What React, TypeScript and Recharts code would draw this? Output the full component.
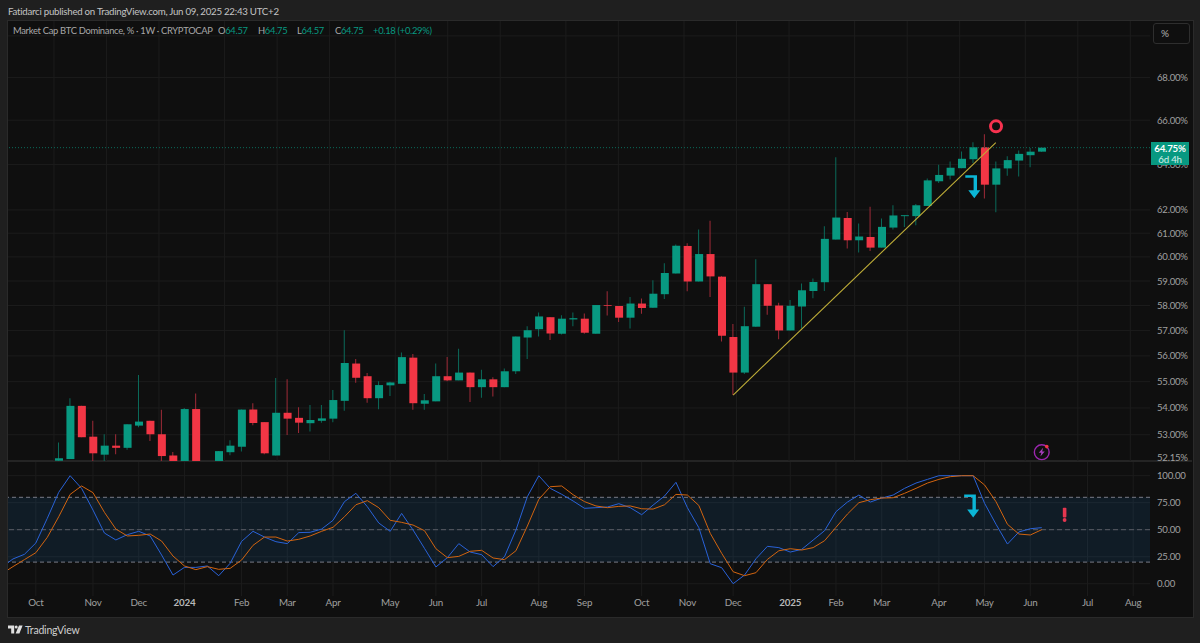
import {
  Bar,
  CartesianGrid,
  Cell,
  ComposedChart,
  Line,
  ReferenceArea,
  ReferenceDot,
  ReferenceLine,
  XAxis,
  YAxis,
} from 'recharts';

// weekly candles, first one sits at index 0
const opens = [
  52.05, 52.11, 54.08, 52.93, 52.27, 52.6, 52.52, 53.34, 53.52, 53.02,
  52.24, 51.95, 53.96, 51.9, 51.7, 52.36, 52.56, 53.94, 53.47, 52.24,
  53.82, 53.63, 53.43, 53.52, 53.6, 54.27, 55.7, 55.21, 54.37, 54.86,
  54.92, 55.93, 54.16, 54.25, 55.21, 55.05, 55.35, 54.79, 55.09, 54.79,
  55.4, 56.72, 57.05, 57.53, 56.87, 57.44, 57.47, 56.87, 58.02, 57.98,
  57.51, 58.08, 57.91, 58.46, 59.31, 60.46, 58.98, 60.12, 59.18, 56.74,
  55.35, 57.15, 58.87, 58.0, 57.0, 57.96, 58.59, 58.95, 60.73, 61.65,
  60.7, 60.84, 60.39, 61.24, 61.73, 61.73, 62.17, 63.25, 63.5, 63.83,
  64.23, 64.77, 63.1, 63.82, 64.17, 64.41, 64.57,
];
const closes = [
  52.14, 54.08, 52.91, 52.32, 52.6, 52.52, 53.39, 53.49, 53.02, 52.22,
  51.9, 53.96, 51.8, 51.6, 52.4, 52.6, 53.94, 53.44, 52.32, 53.82,
  53.6, 53.45, 53.55, 53.61, 54.3, 55.72, 55.15, 54.37, 54.87, 54.97,
  55.95, 54.18, 54.29, 55.21, 55.05, 55.35, 54.79, 55.09, 54.79, 55.4,
  56.76, 57.01, 57.56, 56.88, 57.47, 57.49, 56.91, 58.02, 57.99, 57.51,
  58.08, 57.9, 58.48, 59.33, 60.47, 58.98, 60.12, 59.19, 56.79, 55.35,
  57.17, 58.87, 57.99, 57.0, 57.99, 58.62, 58.96, 60.76, 61.67, 60.7,
  60.86, 60.39, 61.27, 61.76, 61.77, 62.2, 63.29, 63.53, 63.85, 64.25,
  64.77, 63.1, 63.82, 64.19, 64.47, 64.57, 64.75,
];
const highs = [
  52.72, 54.37, 54.08, 53.52, 53.02, 53.02, 53.39, 55.26, 53.52, 53.93,
  52.37, 54.0, 54.55, 51.95, 52.4, 52.8, 53.94, 54.18, 53.47, 55.14,
  55.09, 54.03, 54.11, 54.11, 54.68, 57.01, 55.88, 55.33, 55.02, 55.0,
  56.13, 56.07, 54.53, 55.7, 55.95, 56.28, 55.35, 55.46, 55.17, 55.51,
  56.76, 57.17, 57.72, 57.53, 57.61, 57.72, 57.68, 58.02, 58.58, 57.98,
  58.35, 58.28, 59.03, 59.74, 60.52, 60.57, 61.16, 61.53, 59.2, 57.26,
  57.95, 59.9, 58.87, 58.11, 58.22, 58.9, 59.1, 61.3, 64.32, 61.91,
  61.41, 62.14, 61.63, 62.2, 61.76, 62.26, 63.37, 63.98, 64.13, 64.58,
  64.99, 65.36, 64.13, 64.36, 64.62, 64.74, 64.75,
];
const lows = [
  52.0, 52.11, 52.91, 52.04, 52.0, 52.29, 52.45, 53.28, 52.77, 52.02,
  51.8, 51.9, 51.7, 51.5, 51.6, 52.25, 52.39, 53.35, 52.29, 52.24,
  52.99, 53.07, 53.12, 53.45, 53.47, 53.9, 54.96, 54.2, 53.95, 54.45,
  54.92, 53.93, 53.93, 54.25, 55.02, 55.05, 54.23, 54.39, 54.43, 54.79,
  55.3, 55.88, 56.76, 56.62, 56.84, 57.17, 56.87, 56.87, 57.6, 57.34,
  57.08, 57.67, 57.91, 58.26, 59.31, 58.58, 58.98, 58.35, 56.56, 54.49,
  55.3, 57.15, 57.63, 56.65, 57.0, 57.08, 58.3, 58.59, 60.73, 60.35,
  60.19, 60.25, 60.39, 61.16, 61.27, 61.34, 62.17, 63.17, 63.33, 63.83,
  64.06, 62.5, 61.9, 63.49, 63.46, 63.87, 64.57,
];

// stoch rsi, starts 5 weeks before the first candle (index -5)
const rsiK = [
  15.2, 22.9, 27.2, 37.7, 60.5, 84.6, 100, 88.3, 68.2, 46.9,
  40.5, 45.4, 48.5, 44.2, 26.6, 8.0, 15.1, 15.1, 16.4, 7.4,
  18.9, 39.2, 48.5, 43.2, 38.9, 37.1, 47.3, 47.6, 50.6, 58.7,
  76.0, 83.7, 71.3, 56.2, 48.5, 65.1, 49.7, 32.7, 15.5, 24.1,
  37.1, 29.3, 26.9, 15.8, 25.0, 49.7, 80.6, 100, 88.3, 82.8,
  76.6, 69.8, 70.4, 71.0, 74.1, 70.4, 63.9, 72.8, 81.2, 93.9,
  70.4, 51.9, 18.5, 14.8, 0, 8.0, 23.1, 34.6, 33.4, 29.3,
  31.8, 40.4, 49.1, 66.7, 75.6, 82.1, 75.6, 79.3, 82.1, 88.3,
  93.2, 96.6, 100, 100, 100, 100, 74.4, 55.0, 36.7, 47.9,
  50.9, 51.9,
];
const rsiD = [
  9.0, 15.8, 22.3, 28.7, 42.9, 62.0, 82.7, 90.5, 84.3, 66.1,
  50.6, 44.2, 44.8, 46.0, 39.5, 25.6, 16.4, 13.0, 15.8, 13.3,
  14.2, 21.9, 35.5, 43.2, 43.2, 39.5, 41.1, 44.2, 48.5, 52.2,
  62.0, 73.1, 76.9, 70.4, 58.7, 56.8, 54.3, 49.1, 32.4, 24.1,
  25.3, 30.0, 30.9, 23.8, 22.3, 30.5, 53.4, 78.1, 89.8, 90.5,
  82.4, 76.0, 72.0, 70.4, 71.6, 72.0, 69.4, 69.1, 73.1, 82.7,
  82.1, 72.5, 46.6, 28.1, 11.1, 7.4, 10.2, 22.5, 30.5, 32.4,
  31.2, 33.4, 39.8, 52.2, 64.5, 75.0, 77.8, 79.3, 79.6, 83.7,
  88.3, 93.2, 96.6, 99.1, 100, 100, 91.4, 75.9, 55.0, 46.0,
  45.1, 50.0,
];

const monthTicks = [-2, 3, 7, 11, 16, 20, 24, 29, 33, 37, 42, 46, 51, 55, 59, 64, 68, 72, 77, 81, 85, 90, 94];
const monthLabels = [
  'Oct', 'Nov', 'Dec', '2024', 'Feb', 'Mar', 'Apr', 'May', 'Jun', 'Jul', 'Aug', 'Sep',
  'Oct', 'Nov', 'Dec', '2025', 'Feb', 'Mar', 'Apr', 'May', 'Jun', 'Jul', 'Aug',
];
const priceTicks = [68, 66, 64, 62, 61, 60, 59, 58, 57, 56, 55, 54, 53, 52.15];
const priceGrid = [70, 68, 66, 64, 62, 61, 60, 59, 58, 57, 56, 55, 54, 53];
const rsiTicks = [100, 75, 50, 25, 0];

const trendStart = { x: 59, y: 54.49 };
const trendEnd = { x: 81.98, y: 64.98 };
const lastPrice = 64.75;

const candleRows = opens.map((o, i) => ({
  i,
  wick: [lows[i], highs[i]],
  body: [Math.min(o, closes[i]), Math.max(o, closes[i])],
  up: closes[i] >= o,
}));
const rsiRows = rsiK.map((k, n) => ({ i: n - 5, k, d: rsiD[n] }));

const GREEN = '#089981';
const RED = '#f23645';
const FONT = 'Lato, sans-serif';
const xDomain = [-4.436, 95.47];
const legendText = { position: 'absolute', top: 23, fontSize: 9.4, letterSpacing: -0.3, lineHeight: '16px', whiteSpace: 'nowrap' } as const;

function DropArrow({ cx, cy }: { cx?: number; cy?: number }) {
  return (
    <path
      transform={`translate(${cx},${cy})`}
      d="M-9 -11.5H2.7V3.5H6L0 11.5L-6 3.5H-0.7V-9H-9Z"
      fill="#0bb6d6"
    />
  );
}

function BoltIcon({ cx, cy }: { cx?: number; cy?: number }) {
  return (
    <g transform={`translate(${cx},${cy})`}>
      <circle r={7.4} fill="none" stroke="#9c27b0" strokeWidth={1.4} />
      <path d="M1.4 -4.4L-3 0.6H-0.4L-1.4 4.4L3 -0.6H0.4Z" fill="#a83fbd" />
      <circle cx={5} cy={-5.6} r={1.8} fill={RED} />
    </g>
  );
}

function WarnIcon({ cx, cy }: { cx?: number; cy?: number }) {
  return (
    <g transform={`translate(${cx},${cy})`} fill="#e5364f">
      <rect x={-1.8} y={-7.2} width={3.6} height={9.6} rx={0.8} />
      <circle cy={5} r={1.9} />
    </g>
  );
}

function MonthTick({ x, y, payload }: any) {
  const label = monthLabels[monthTicks.indexOf(payload.value)];
  const isYear = label.length === 4;
  return (
    <text
      x={x}
      y={y}
      dy={4}
      textAnchor="middle"
      fontFamily={FONT}
      fontSize={9.8}
      letterSpacing={-0.2}
      fontWeight={isYear ? 700 : 400}
      fill={isYear ? '#b8b8b8' : '#a0a0a0'}
    >
      {label}
    </text>
  );
}

function PriceTick({ x, y, payload }: any) {
  return (
    <text x={x} y={y} dy={3.5} fontFamily={FONT} fontSize={9.6} letterSpacing={-0.25} fill="#a0a0a0">
      {`${payload.value.toFixed(2)}%`}
    </text>
  );
}

function RsiTick({ x, y, payload }: any) {
  return (
    <text x={x} y={y} dy={3.5} fontFamily={FONT} fontSize={9.6} letterSpacing={-0.25} fill="#a0a0a0">
      {payload.value.toFixed(2)}
    </text>
  );
}

export default function App() {
  return (
    <div
      style={{
        position: 'absolute',
        left: 0,
        top: 0,
        width: 1200,
        height: 643,
        overflow: 'hidden',
        background: '#1f1f1f',
        fontFamily: FONT,
      }}
    >
      <div style={{ position: 'absolute', left: 7, top: 20, width: 1185, height: 596, background: '#0f0f0f', border: '1px solid #2a2a2a' }} />
      <div style={{ position: 'absolute', left: 8, top: 460, width: 1184, height: 2, background: '#242424' }} />

      <div style={{ position: 'absolute', left: 8, top: 3, fontSize: 9.7, letterSpacing: -0.26, lineHeight: '16px', color: '#c4c4c4', whiteSpace: 'nowrap' }}>
        Fatidarci published on TradingView.com, Jun 09, 2025 22:43 UTC+2
      </div>

      <div style={{ position: 'absolute', left: 0, top: 21 }}>
        <ComposedChart
          width={1200}
          height={448}
          data={candleRows}
          margin={{ top: 0, right: 8, bottom: 8, left: 8 }}
        >
          <CartesianGrid stroke="#1c1c1c" horizontalValues={priceGrid} verticalValues={monthTicks} />
          <XAxis xAxisId="body" dataKey="i" type="number" domain={xDomain} ticks={monthTicks} allowDataOverflow hide />
          <XAxis xAxisId="wick" dataKey="i" type="number" domain={xDomain} ticks={monthTicks} allowDataOverflow hide />
          <YAxis
            orientation="right"
            scale="log"
            domain={[52.04, 70.73]}
            ticks={priceTicks}
            interval={0}
            allowDataOverflow
            width={42}
            axisLine={false}
            tickLine={false}
            tickSize={0}
            tickMargin={7}
            tick={PriceTick}
          />
          <Bar xAxisId="wick" dataKey="wick" barSize={1} isAnimationActive={false}>
            {candleRows.map((r) => (
              <Cell key={r.i} fill={r.up ? '#0b6a5a' : '#a02b38'} />
            ))}
          </Bar>
          <Bar xAxisId="body" dataKey="body" barSize={8} isAnimationActive={false}>
            {candleRows.map((r) => (
              <Cell key={r.i} fill={r.up ? GREEN : RED} />
            ))}
          </Bar>
          <ReferenceLine xAxisId="body" y={lastPrice} stroke="#0b6a5a" strokeDasharray="1 2" />
          <ReferenceLine xAxisId="body" segment={[trendStart, trendEnd]} stroke="#bfae38" strokeWidth={1.1} />
          <ReferenceDot
            xAxisId="body"
            x={82}
            y={65.72}
            r={5.5}
            fill="none"
            stroke="#f7324f"
            strokeWidth={3}
          />
          <ReferenceDot xAxisId="body" x={80.1} y={63.01} shape={(p: any) => <DropArrow cx={p.cx} cy={p.cy} />} />
          <ReferenceDot xAxisId="body" x={86} y={52.36} shape={(p: any) => <BoltIcon cx={p.cx} cy={p.cy} />} />
        </ComposedChart>
      </div>

      <div style={{ position: 'absolute', left: 0, top: 462 }}>
        <ComposedChart
          width={1200}
          height={154}
          data={rsiRows}
          margin={{ top: 0, right: 8, bottom: 0, left: 8 }}
        >
          <CartesianGrid stroke="#1c1c1c" horizontalValues={rsiTicks} verticalValues={monthTicks} />
          <XAxis
            dataKey="i"
            type="number"
            domain={xDomain}
            ticks={monthTicks}
            interval={0}
            allowDataOverflow
            height={20}
            axisLine={false}
            tickLine={false}
            tickSize={0}
            tickMargin={6}
            tick={MonthTick}
          />
          <YAxis
            orientation="right"
            domain={[-11.4, 112.7]}
            ticks={rsiTicks}
            interval={0}
            allowDataOverflow
            width={42}
            axisLine={false}
            tickLine={false}
            tickSize={0}
            tickMargin={7}
            tick={RsiTick}
          />
          <ReferenceArea y1={20} y2={80} fill="#2196f3" fillOpacity={0.1} stroke="none" />
          <ReferenceLine y={80} stroke="#787b86" strokeDasharray="4 3" />
          <ReferenceLine y={50} stroke="#5a5d66" strokeDasharray="5 3" />
          <ReferenceLine y={20} stroke="#787b86" strokeDasharray="4 3" />
          <Line dataKey="k" stroke="#2962d8" strokeWidth={1} dot={false} isAnimationActive={false} />
          <Line dataKey="d" stroke="#d2640f" strokeWidth={1} dot={false} isAnimationActive={false} />
          <ReferenceDot x={80} y={71.9} shape={(p: any) => <DropArrow cx={p.cx} cy={p.cy} />} />
          <ReferenceDot x={88} y={63.6} shape={(p: any) => <WarnIcon cx={p.cx} cy={p.cy} />} />
        </ComposedChart>
      </div>

      <div style={{ ...legendText, left: 13, color: '#a8a8a8' }}>
        Market Cap BTC Dominance, % · 1W · CRYPTOCAP
      </div>
      {[
        ['O', '64.57', 218],
        ['H', '64.75', 258],
        ['L', '64.57', 297],
        ['C', '64.75', 335],
      ].map(([k, v, x]) => (
        <div key={k as string} style={{ ...legendText, left: x as number, color: GREEN }}>
          <span style={{ color: '#a8a8a8' }}>{k}</span>
          {v}
        </div>
      ))}
      <div style={{ ...legendText, left: 373, color: GREEN }}>+0.18 (+0.29%)</div>

      <div
        style={{
          position: 'absolute',
          left: 1153,
          top: 23,
          width: 28,
          height: 19,
          border: '1px solid #2e2e2e',
          borderRadius: 3,
          background: '#0f0f0f',
          color: '#b0b0b0',
          fontSize: 10,
          lineHeight: '19px',
          paddingLeft: 7,
        }}
      >
        %
      </div>

      <div
        style={{
          position: 'absolute',
          left: 1151,
          top: 142,
          width: 38,
          height: 23,
          background: GREEN,
          color: '#ffffff',
          fontSize: 9.7,
          letterSpacing: -0.2,
          lineHeight: '11px',
          paddingTop: 0.5,
          textAlign: 'center',
          boxSizing: 'border-box',
        }}
      >
        <div style={{ fontWeight: 700 }}>64.75%</div>
        <div style={{ color: '#d5f0ea' }}>6d 4h</div>
      </div>

      <svg style={{ position: 'absolute', left: 8, top: 625 }} width={15} height={10} viewBox="0 0 15 10">
        <path d="M0 0.5H6.2V8.5H3.2V3.4H0Z" fill="#e0e0e0" />
        <circle cx={8.2} cy={2} r={1.5} fill="#e0e0e0" />
        <path d="M11 0.5H14.6L11.4 8.5H7.6Z" fill="#e0e0e0" />
      </svg>
      <div style={{ position: 'absolute', left: 25, top: 622, fontSize: 10.5, letterSpacing: -0.2, lineHeight: '16px', color: '#cfcfcf', whiteSpace: 'nowrap' }}>
        TradingView
      </div>
    </div>
  );
}
